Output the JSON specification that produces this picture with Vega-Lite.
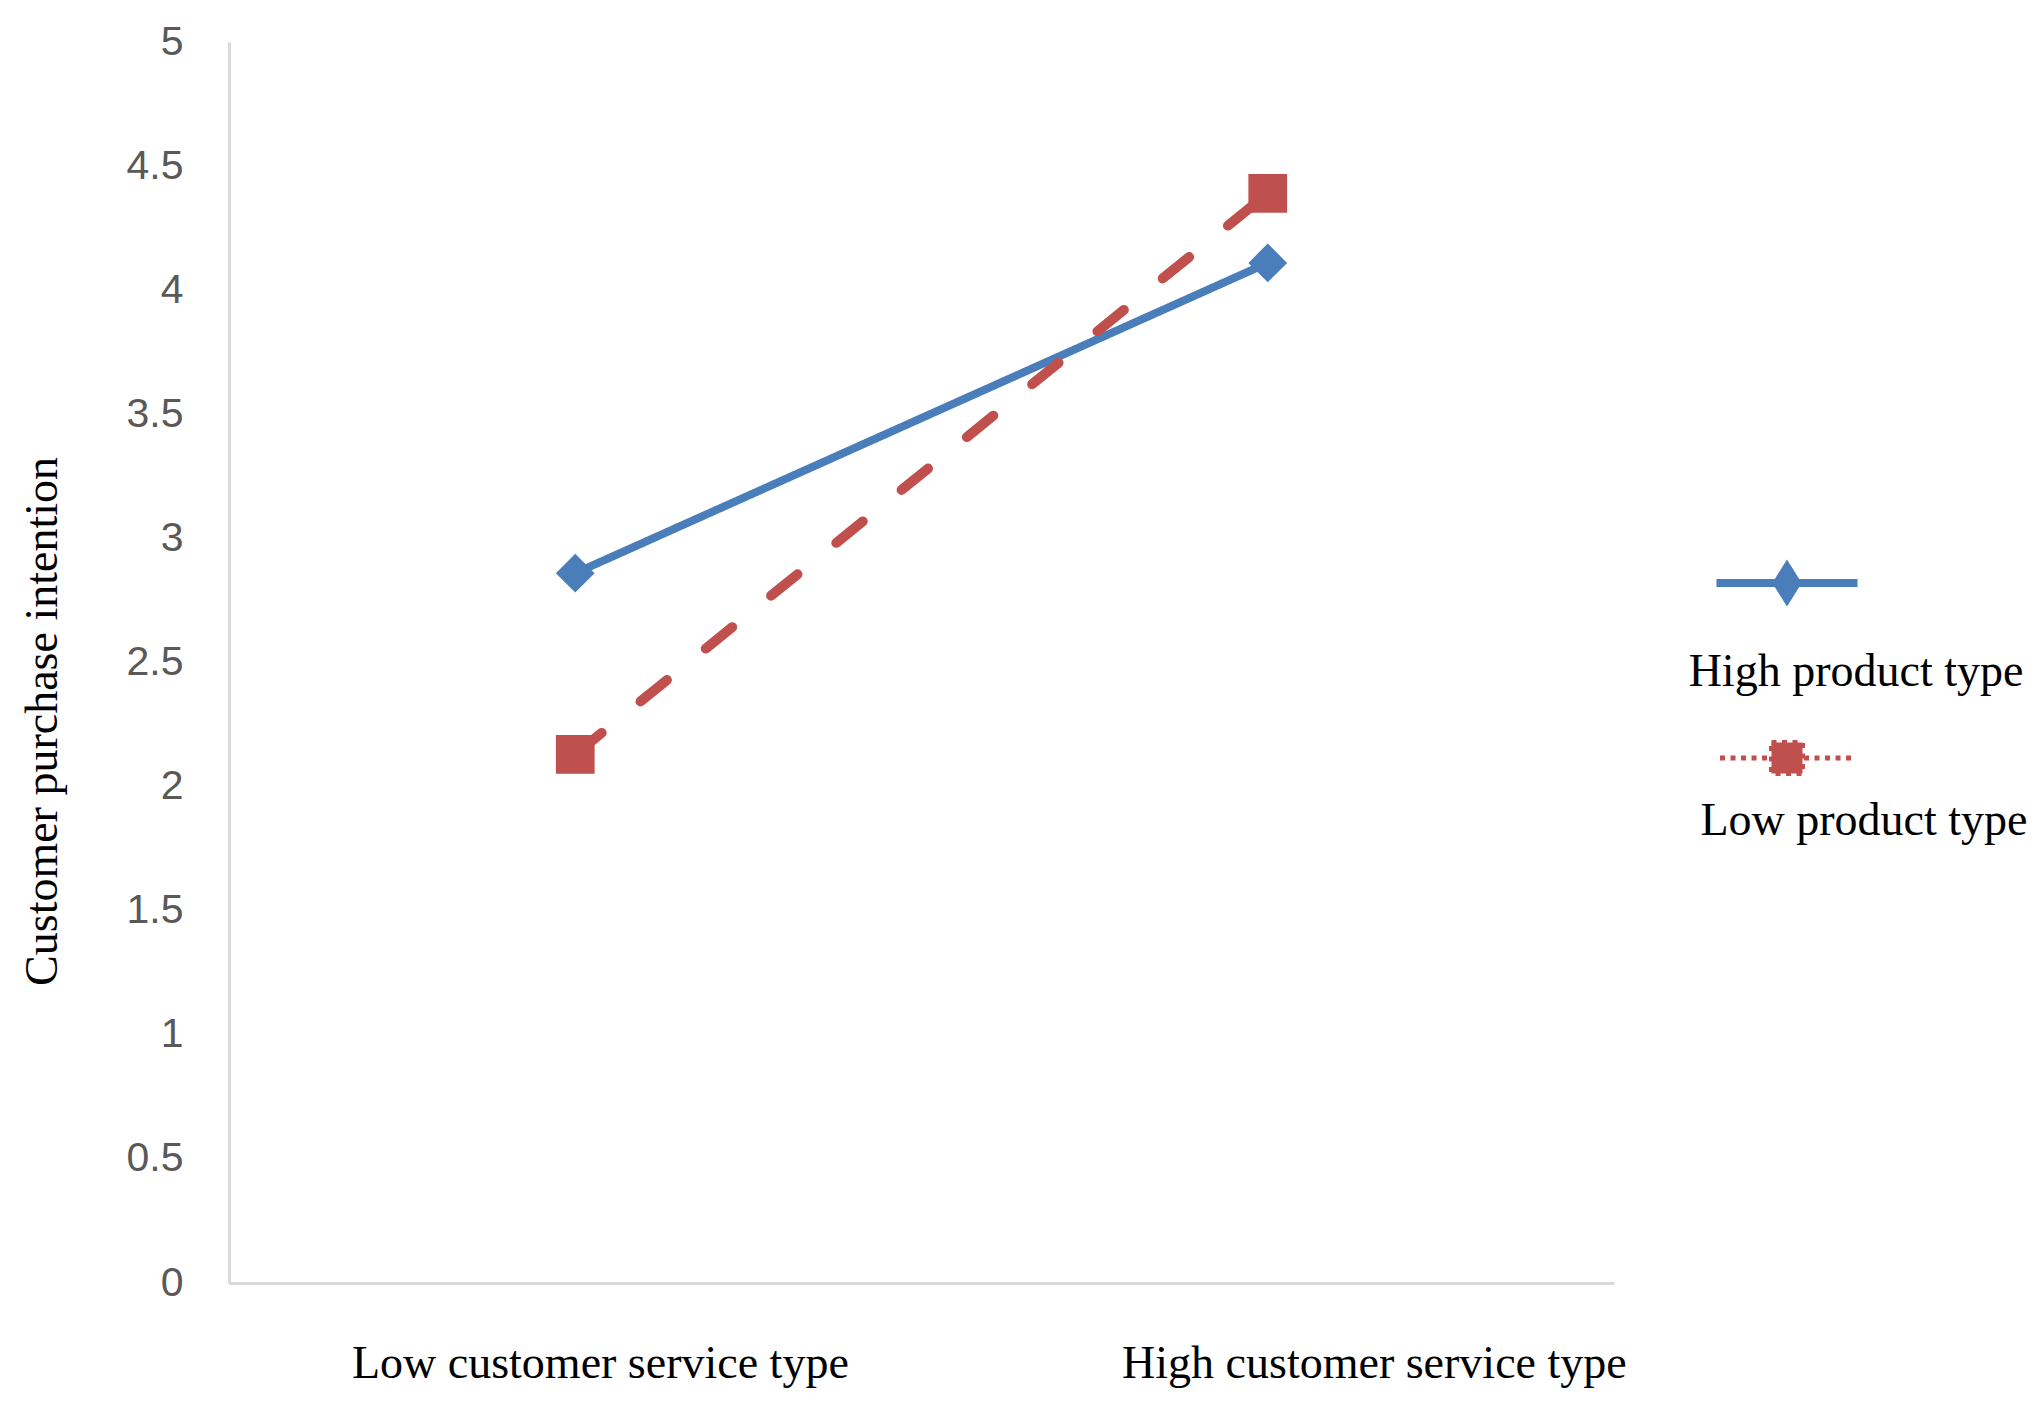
{
  "$schema": "https://vega.github.io/schema/vega-lite/v6.json",
  "width": 1385,
  "height": 1241,
  "autosize": "none",
  "padding": {"left": 229, "top": 42, "right": 424, "bottom": 125},
  "background": "white",
  "config": {"view": {"stroke": null}},
  "data": {
    "values": [
      {"service": "Low customer service type", "product": "High product type", "intention": 2.86},
      {"service": "High customer service type", "product": "High product type", "intention": 4.11},
      {"service": "Low customer service type", "product": "Low product type", "intention": 2.13},
      {"service": "High customer service type", "product": "Low product type", "intention": 4.39}
    ]
  },
  "encoding": {
    "y": {
      "field": "intention",
      "type": "quantitative",
      "scale": {"domain": [0, 5], "nice": false, "zero": true},
      "axis": {
        "title": "Customer purchase intention",
        "titleFont": "Liberation Serif",
        "titleFontSize": 46,
        "titleFontWeight": "normal",
        "titleColor": "#000000",
        "titleX": -187,
        "titleY": 679,
        "titleBaseline": "middle",
        "titleAngle": -90,
        "values": [0, 0.5, 1, 1.5, 2, 2.5, 3, 3.5, 4, 4.5, 5],
        "format": "~g",
        "labelFont": "Liberation Sans",
        "labelFontSize": 41,
        "labelColor": "#595959",
        "labelPadding": 46,
        "ticks": false,
        "grid": false,
        "domainColor": "#d9d9d9",
        "domainWidth": 3
      }
    },
    "color": {
      "field": "product",
      "type": "nominal",
      "scale": {"domain": ["High product type", "Low product type"], "range": ["#4a7ebb", "#c0504d"]},
      "legend": {
        "title": null,
        "orient": "none",
        "legendX": 1535,
        "legendY": 518,
        "padding": 0,
        "rowPadding": 37,
        "symbolSize": 19881,
        "labelFont": "Liberation Serif",
        "labelFontSize": 46,
        "labelColor": "#000000",
        "labelLimit": 600,
        "encode": {
          "symbols": {
            "update": {
              "shape": {"signal": "datum.index === 0 ? 'M-1,0H1M0,-0.227L0.142,0L0,0.227L-0.142,0Z' : 'M-0.95,0H0.95M-0.22,-0.22H0.22V0.22H-0.22Z'"},
              "strokeDash": {"signal": "datum.index === 0 ? [1,0] : [5,5.5]"},
              "fill": {"signal": "datum.index === 0 ? '#4a7ebb' : '#c0504d'"},
              "stroke": {"signal": "datum.index === 0 ? '#4a7ebb' : '#c0504d'"},
              "fillOpacity": {"value": 1},
              "strokeOpacity": {"value": 1},
              "strokeWidth": {"signal": "datum.index === 0 ? 8 : 5"},
              "size": {"value": 19881}
            }
          },
          "labels": {
            "update": {
              "align": {"value": "center"},
              "dx": {"signal": "datum.index === 0 ? 42 : 50"},
              "dy": {"signal": "datum.index === 0 ? 89 : 63"}
            }
          }
        }
      }
    }
  },
  "layer": [
    {
      "mark": {"type": "line", "strokeCap": "round"},
      "encoding": {
        "x": {
          "field": "service",
          "type": "nominal",
          "sort": ["Low customer service type", "High customer service type"],
          "scale": {"type": "point", "padding": 0.5},
          "axis": null
        },
        "strokeDash": {
          "condition": {"test": "datum.product === 'Low product type'", "value": [34, 50]},
          "value": [1, 0]
        },
        "strokeWidth": {
          "condition": {"test": "datum.product === 'Low product type'", "value": 10},
          "value": 8
        }
      }
    },
    {
      "mark": {"type": "point", "filled": true, "opacity": 1, "size": 1500},
      "encoding": {
        "x": {
          "field": "service",
          "type": "nominal",
          "sort": ["Low customer service type", "High customer service type"],
          "scale": {"type": "point", "padding": 0.5},
          "axis": null
        },
        "shape": {
          "condition": {"test": "datum.product === 'High product type'", "value": "diamond"},
          "value": "square"
        }
      }
    },
    {
      "mark": {"type": "point", "opacity": 0, "size": 0},
      "encoding": {
        "x": {
          "field": "service",
          "type": "nominal",
          "sort": ["Low customer service type", "High customer service type"],
          "scale": {"type": "point", "padding": 0.3947, "align": 0.607},
          "axis": {
            "title": null,
            "labelAngle": 0,
            "labelFont": "Liberation Serif",
            "labelFontSize": 46,
            "labelColor": "#000000",
            "labelPadding": 58,
            "labelBaseline": "top",
            "labelLimit": 1000,
            "ticks": false,
            "grid": false,
            "domainColor": "#d9d9d9",
            "domainWidth": 3
          }
        },
        "color": {"value": "#ffffff"}
      }
    }
  ],
  "resolve": {"scale": {"x": "independent"}, "axis": {"x": "independent"}}
}
